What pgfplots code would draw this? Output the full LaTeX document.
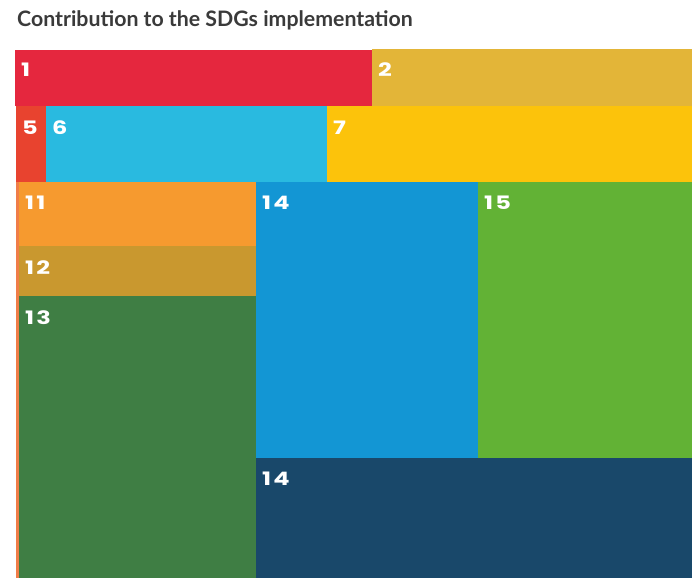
\documentclass[border=0pt]{standalone}
\usepackage{pgfplots}
\pgfplotsset{compat=1.18}
\usepackage{fontspec}
\setmainfont{Lato}
\newfontfamily\labfont[LetterSpace=12, FakeStretch=1.3]{Poppins}
\definecolor{c1}{HTML}{E5273E}
\definecolor{c2}{HTML}{E3B538}
\definecolor{c5}{HTML}{E8432F}
\definecolor{c6}{HTML}{29BAE0}
\definecolor{c7}{HTML}{FCC30B}
\definecolor{c9}{HTML}{F07D48}
\definecolor{c11}{HTML}{F69A2F}
\definecolor{c12}{HTML}{C9982F}
\definecolor{c13}{HTML}{3F7E44}
\definecolor{c14}{HTML}{1396D4}
\definecolor{c15}{HTML}{62B235}
\definecolor{c14b}{HTML}{19486A}
\definecolor{titlegray}{HTML}{3A3A3A}
\begin{document}
\begin{tikzpicture}
\begin{axis}[
  width=692pt, height=578pt, scale only axis,
  xmin=0, xmax=692, ymin=0, ymax=578, y dir=reverse,
  hide axis, clip=false,
]
\path (axis cs:0,0) rectangle (axis cs:692,578);
\addplot[fill=c1, draw=none] coordinates {(15,50) (372,50) (372,106) (15,106)} -- cycle;
\addplot[fill=c2, draw=none] coordinates {(372,49) (692,49) (692,106) (372,106)} -- cycle;
\addplot[fill=c5, draw=none] coordinates {(16,106) (46,106) (46,182) (16,182)} -- cycle;
\addplot[fill=c6, draw=none] coordinates {(46,106) (327,106) (327,182) (46,182)} -- cycle;
\addplot[fill=c7, draw=none] coordinates {(327,106) (692,106) (692,182) (327,182)} -- cycle;
\addplot[fill=c9, draw=none] coordinates {(16,182) (19,182) (19,578) (16,578)} -- cycle;
\addplot[fill=c11, draw=none] coordinates {(19,182) (256,182) (256,246) (19,246)} -- cycle;
\addplot[fill=c12, draw=none] coordinates {(19,246) (256,246) (256,296) (19,296)} -- cycle;
\addplot[fill=c13, draw=none] coordinates {(19,296) (256,296) (256,578) (19,578)} -- cycle;
\addplot[fill=c14, draw=none] coordinates {(256,182) (478,182) (478,458) (256,458)} -- cycle;
\addplot[fill=c15, draw=none] coordinates {(478,182) (692,182) (692,458) (478,458)} -- cycle;
\addplot[fill=c14b, draw=none] coordinates {(256,458) (692,458) (692,578) (256,578)} -- cycle;
\node[anchor=base west, inner sep=0pt, font=\bfseries\fontsize{21.3}{24}\selectfont, text=titlegray] at (axis cs:17,27) {Contribution to the SDGs implementation};
\tikzset{lab/.style={anchor=base west, inner sep=0pt, text=white, font=\labfont\bfseries\fontsize{18.5}{20}\selectfont}}
\node[lab] at (axis cs:21,76) {1};
\node[lab] at (axis cs:378,76) {2};
\node[lab] at (axis cs:22,134) {5};
\node[lab] at (axis cs:52,134) {6};
\node[lab] at (axis cs:333,134) {7};
\node[lab] at (axis cs:25,209) {11};
\node[lab] at (axis cs:25,274) {12};
\node[lab] at (axis cs:25,324) {13};
\node[lab] at (axis cs:262,209) {14};
\node[lab] at (axis cs:484,209) {15};
\node[lab] at (axis cs:262,485) {14};
\end{axis}
\end{tikzpicture}
\end{document}
